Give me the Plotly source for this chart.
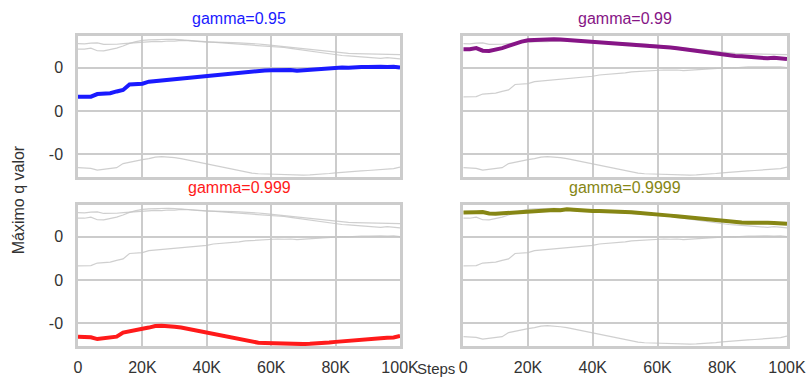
import plotly.graph_objects as go

# Training steps (thousands) at which the maximum Q value was logged
steps_k = [0, 2, 4, 6, 8, 10, 12, 14, 16, 18, 20, 22, 24, 26, 28, 30, 32, 34, 36, 38,
           40, 42, 44, 46, 48, 50, 52, 54, 56, 58, 60, 62, 64, 66, 68, 70, 72, 74, 76, 78,
           80, 82, 84, 86, 88, 90, 92, 94, 96, 98, 100]

gammas = ["0.95", "0.99", "0.999", "0.9999"]

q_095 = [0.065, 0.065, 0.066, 0.078, 0.079, 0.082, 0.090, 0.097, 0.122, 0.124,
         0.126, 0.135, 0.138, 0.140, 0.142, 0.146, 0.148, 0.151, 0.153, 0.157,
         0.160, 0.166, 0.168, 0.171, 0.174, 0.176, 0.180, 0.182, 0.185, 0.187,
         0.188, 0.189, 0.188, 0.189, 0.186, 0.188, 0.192, 0.193, 0.195, 0.199,
         0.200, 0.200, 0.199, 0.202, 0.203, 0.203, 0.205, 0.204, 0.203, 0.204, 0.200]

q_099 = [0.285, 0.285, 0.290, 0.278, 0.277, 0.282, 0.290, 0.300, 0.312, 0.320,
         0.326, 0.328, 0.330, 0.332, 0.331, 0.330, 0.328, 0.325, 0.322, 0.320,
         0.317, 0.316, 0.313, 0.312, 0.310, 0.309, 0.307, 0.306, 0.304, 0.302,
         0.300, 0.297, 0.293, 0.289, 0.285, 0.281, 0.276, 0.271, 0.266, 0.262,
         0.258, 0.256, 0.254, 0.252, 0.249, 0.248, 0.247, 0.243, 0.246, 0.243, 0.240]

q_0999 = [-0.262, -0.262, -0.265, -0.273, -0.270, -0.266, -0.262, -0.243, -0.236, -0.232,
          -0.225, -0.220, -0.213, -0.211, -0.212, -0.216, -0.220, -0.226, -0.233, -0.238,
          -0.244, -0.252, -0.258, -0.264, -0.270, -0.276, -0.282, -0.287, -0.290, -0.291,
          -0.292, -0.294, -0.296, -0.297, -0.297, -0.296, -0.295, -0.294, -0.292, -0.289,
          -0.286, -0.283, -0.282, -0.280, -0.277, -0.275, -0.272, -0.269, -0.267, -0.266, -0.259]

q_09999 = [0.311, 0.310, 0.313, 0.314, 0.307, 0.306, 0.308, 0.311, 0.313, 0.316,
           0.315, 0.318, 0.321, 0.320, 0.323, 0.322, 0.326, 0.324, 0.321, 0.320,
           0.318, 0.318, 0.316, 0.316, 0.315, 0.314, 0.313, 0.311, 0.309, 0.306,
           0.303, 0.300, 0.297, 0.294, 0.291, 0.287, 0.283, 0.279, 0.276, 0.273,
           0.271, 0.268, 0.266, 0.265, 0.264, 0.265, 0.265, 0.264, 0.263, 0.262, 0.260]

series = [q_095, q_099, q_0999, q_09999]
colors = ["#1a1aff", "#861586", "#ff1a1a", "#868614"]

x_tickvals = [0, 20, 40, 60, 80, 100]
x_ticktext = ["0", "20K", "40K", "60K", "80K", "100K"]
y_tickvals = [0.2, 0.0, -0.2]
y_ticktext = ["0", "0", "-0"]

x_range = [0, 100]
y_range = [-0.305, 0.346]

# panel domains: (x domain, y domain) for each gamma
x_domains = [[0, 0.4542], [0.5434, 1.0], [0, 0.4542], [0.5434, 1.0]]
y_domains = [[0.5452, 1.0], [0.5452, 1.0], [0.0, 0.4548], [0.0, 0.4548]]

grid_color = "#cccccc"
text_color = "#333333"
font_family = "Liberation Sans, Arial, sans-serif"

fig = go.Figure()
layout = {}
annotations = []

for p in range(4):
    xa = "x" if p == 0 else f"x{p + 1}"
    ya = "y" if p == 0 else f"y{p + 1}"
    # other runs in light gray behind the highlighted one
    for k in range(4):
        if k == p:
            continue
        fig.add_trace(go.Scatter(
            x=steps_k, y=series[k], xaxis=xa, yaxis=ya, mode="lines",
            line=dict(color="rgba(195,195,195,0.8)", width=1.2),
            hoverinfo="skip", showlegend=False))
    fig.add_trace(go.Scatter(
        x=steps_k, y=series[p], xaxis=xa, yaxis=ya, mode="lines",
        line=dict(color=colors[p], width=4), showlegend=False))

    bottom = p >= 2
    left = p % 2 == 0
    xkey = "xaxis" if p == 0 else f"xaxis{p + 1}"
    ykey = "yaxis" if p == 0 else f"yaxis{p + 1}"
    layout[xkey] = dict(
        domain=x_domains[p], range=x_range, anchor=ya, automargin=False,
        tickvals=x_tickvals, ticktext=x_ticktext, showticklabels=bottom,
        ticklabeloverflow="allow",
        showgrid=True, gridcolor=grid_color, gridwidth=1.8,
        showline=True, linecolor=grid_color, linewidth=2.5, mirror=True,
        zeroline=False, ticks="", ticklabelstandoff=5,
        tickfont=dict(size=16, color=text_color))
    layout[ykey] = dict(
        domain=y_domains[p], range=y_range, anchor=xa, automargin=False,
        tickvals=y_tickvals, ticktext=y_ticktext, showticklabels=left,
        ticklabeloverflow="allow",
        showgrid=True, gridcolor=grid_color, gridwidth=1.8,
        showline=True, linecolor=grid_color, linewidth=2.5, mirror=True,
        zeroline=False, ticks="", ticklabelstandoff=9,
        tickfont=dict(size=16, color=text_color))
    annotations.append(dict(
        text=f"gamma={gammas[p]}", xref="paper", yref="paper",
        x=(x_domains[p][0] + x_domains[p][1]) / 2, y=y_domains[p][1],
        yshift=7, xanchor="center", yanchor="bottom", showarrow=False,
        font=dict(size=16, color=colors[p])))

# shared axis titles
annotations.append(dict(
    text="Steps", xref="paper", yref="paper", x=0.505, y=-0.1065,
    xanchor="center", yanchor="bottom", showarrow=False,
    font=dict(size=15, color=text_color)))
annotations.append(dict(
    text="Máximo q valor", xref="paper", yref="paper", x=0, xshift=-60, y=0.47,
    xanchor="center", yanchor="middle", textangle=-90, showarrow=False,
    font=dict(size=16, color=text_color)))

fig.update_layout(
    width=806, height=380,
    margin=dict(l=78, r=19, t=36, b=34),
    paper_bgcolor="white", plot_bgcolor="white",
    font=dict(family=font_family, color=text_color),
    annotations=annotations,
    **layout)

fig.write_html("out.html")
